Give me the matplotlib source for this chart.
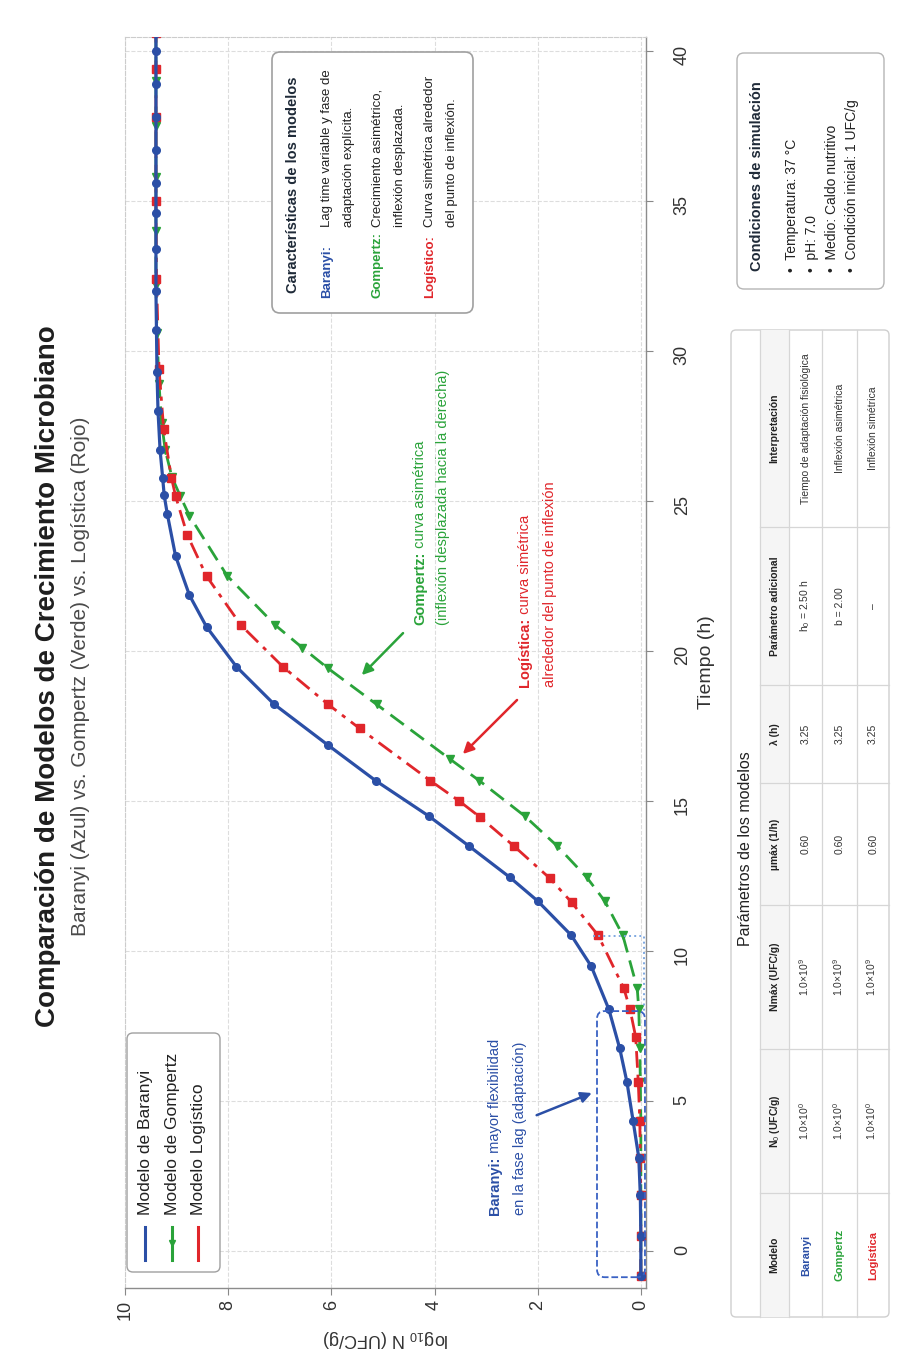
import matplotlib.pyplot as plt
from matplotlib.patches import FancyBboxPatch, Rectangle
from matplotlib.lines import Line2D

plt.rcParams['font.family'] = ['Liberation Sans', 'DejaVu Sans']
plt.rcParams['mathtext.fontset'] = 'custom'
plt.rcParams['mathtext.rm'] = 'Liberation Sans'
plt.rcParams['mathtext.it'] = 'Liberation Sans:italic'
plt.rcParams['mathtext.bf'] = 'Liberation Sans:bold'

W, H = 905, 1363

BLUE = '#2b4fa6'
GREEN = '#2aa33a'
RED = '#e0262b'
DARK = '#1f2a38'

# log10 N (UFC/g) vs tiempo (h)
baranyi_t = [-0.83, 0.50, 1.86, 3.12, 4.34, 5.64, 6.76, 8.06, 9.49, 10.53, 11.67, 12.46,
             13.50, 14.50, 15.68, 16.86, 18.23, 19.48, 20.81, 21.86, 23.17, 24.57, 25.19,
             25.78, 26.70, 28.00, 29.30, 30.70, 32.00, 33.40, 34.60, 35.60, 36.70, 37.80,
             38.90, 40.00, 40.60]
baranyi_n = [0.00, 0.00, 0.01, 0.04, 0.15, 0.27, 0.41, 0.62, 0.96, 1.35, 2.00, 2.54,
             3.33, 4.11, 5.14, 6.06, 7.11, 7.84, 8.42, 8.75, 9.02, 9.18, 9.24,
             9.27, 9.32, 9.36, 9.38, 9.39, 9.40, 9.40, 9.40, 9.40, 9.40, 9.40,
             9.40, 9.40, 9.40]

gompertz_t = [-0.83, 0.50, 1.86, 3.12, 4.34, 5.64, 6.76, 8.06, 8.76, 10.53, 11.67, 12.46,
              13.50, 14.50, 15.68, 16.40, 18.22, 19.42, 20.11, 20.87, 22.51, 24.51, 25.17,
              25.80, 26.70, 27.60, 28.90, 30.60, 32.20, 34.00, 35.80, 37.50, 39.00, 40.60]
gompertz_n = [0.00, 0.00, 0.00, 0.00, 0.00, 0.01, 0.02, 0.04, 0.07, 0.35, 0.70, 1.05,
              1.62, 2.25, 3.13, 3.70, 5.12, 6.06, 6.56, 7.09, 8.02, 8.75, 8.93,
              9.09, 9.22, 9.29, 9.34, 9.38, 9.40, 9.40, 9.40, 9.40, 9.40, 9.40]

logistic_t = [-0.83, 0.50, 1.86, 3.12, 4.34, 5.64, 7.14, 8.06, 8.76, 10.53, 11.62, 12.42,
              13.50, 14.47, 15.00, 15.68, 17.42, 18.22, 19.48, 20.86, 22.50, 23.86, 25.17,
              25.78, 27.40, 29.40, 32.40, 35.00, 37.80, 39.40, 40.60]
logistic_n = [0.00, 0.00, 0.00, 0.01, 0.02, 0.05, 0.10, 0.21, 0.33, 0.83, 1.34, 1.76,
              2.46, 3.12, 3.52, 4.08, 5.45, 6.06, 6.94, 7.75, 8.42, 8.79, 9.02,
              9.10, 9.25, 9.34, 9.39, 9.40, 9.40, 9.40, 9.40]

# zona de fase lag resaltada (t en h, log10 N)
lag_t = (-0.87, 8.0)
lag_n = (-0.08, 0.85)

# tabla de parámetros
table_header = ['Modelo', 'N$_0$ (UFC/g)', 'Nmáx (UFC/g)', 'µmáx (1/h)', 'λ (h)',
                'Parámetro adicional', 'Interpretación']
table_models = ['Baranyi', 'Gompertz', 'Logística']
table_n0 = ['1.0×10$^{0}$', '1.0×10$^{0}$', '1.0×10$^{0}$']
table_nmax = ['1.0×10$^{9}$', '1.0×10$^{9}$', '1.0×10$^{9}$']
table_mu = ['0.60', '0.60', '0.60']
table_lambda = ['3.25', '3.25', '3.25']
table_extra = ['h$_0$ = 2.50 h', 'b = 2.00', '–']
table_interp = ['Tiempo de adaptación fisiológica', 'Inflexión asimétrica', 'Inflexión simétrica']
model_colors = [BLUE, GREEN, RED]

conditions = ['Temperatura: 37 °C', 'pH: 7.0', 'Medio: Caldo nutritivo',
              'Condición inicial: 1 UFC/g']

fig = plt.figure(figsize=(W / 100, H / 100), dpi=100)
fig.patch.set_facecolor('white')

# the chart is laid out turned a quarter: log10 N runs right-to-left, time runs upward
ax = fig.add_axes([125 / W, 1 - 1288 / H, 521 / W, 1251 / H])
ax.plot(gompertz_n, gompertz_t, color=GREEN, lw=2.0, ls=(0, (6, 3)), marker='v', ms=6,
        zorder=3.0)
ax.plot(logistic_n, logistic_t, color=RED, lw=2.0, ls=(0, (6, 2.5, 1.5, 2.5)), marker='s',
        ms=5.5, zorder=3.1)
ax.plot(baranyi_n, baranyi_t, color=BLUE, lw=2.3, marker='o', ms=5.5, zorder=3.2)

ax.set_xlim(10, -0.1)
ax.set_ylim(-1.23, 40.47)
ax.set_xticks([0, 2, 4, 6, 8, 10])
ax.set_yticks(range(0, 41, 5))
ax.yaxis.tick_right()
ax.yaxis.set_label_position('right')
ax.tick_params(axis='x', labelrotation=90, labelsize=13, length=5, color='#888888',
               labelcolor='#333333')
ax.tick_params(axis='y', labelrotation=90, labelsize=13, length=5, color='#888888',
               labelcolor='#333333', pad=15)
ax.set_xlabel(r'log$_{10}$ N (UFC/g)', rotation=180, fontsize=13, color='#333333', labelpad=6)
ax.set_ylabel('Tiempo (h)', rotation=90, fontsize=14, color='#333333', labelpad=5)
ax.grid(True, ls='--', color='#dddddd', lw=0.8)
ax.set_axisbelow(True)
for side in ('top', 'left'):
    ax.spines[side].set_linestyle('--')
    ax.spines[side].set_color('#cccccc')
    ax.spines[side].set_linewidth(0.8)
for side in ('bottom', 'right'):
    ax.spines[side].set_color('#8c8c8c')
    ax.spines[side].set_linewidth(1.0)

lag_box = FancyBboxPatch((lag_n[0], lag_t[0]), lag_n[1] - lag_n[0], lag_t[1] - lag_t[0],
                         boxstyle='round,pad=0,rounding_size=0.15', mutation_aspect=1.72,
                         fill=False, ec='#3a62c4', ls='--', lw=1.3, zorder=4)
ax.add_patch(lag_box)
ax.plot([0.93, -0.06, -0.06], [10.5, 10.5, lag_t[1]], ls=':', color='#7fa8e0', lw=1.4,
        zorder=4)

arrow = dict(arrowstyle='-|>', lw=1.8, mutation_scale=16, shrinkA=0, shrinkB=0)
ax.annotate('', xy=(5.41, 19.2), xytext=(4.61, 20.6), arrowprops=dict(arrow, color=GREEN))
ax.annotate('', xy=(3.45, 16.57), xytext=(2.40, 18.37), arrowprops=dict(arrow, color=RED))
ax.annotate('', xy=(0.95, 5.27), xytext=(2.02, 4.53), arrowprops=dict(arrow, color=BLUE))

# overlay in pixel units for the text blocks, legend and table
ov = fig.add_axes([0, 0, 1, 1], zorder=5)
ov.set_xlim(0, W)
ov.set_ylim(H, 0)
ov.axis('off')
renderer = fig.canvas.get_renderer()


def vtext(xc, y, parts, size):
    """Upward-reading text starting at row y, centred on column xc, built from styled runs."""
    x = xc + 0.42 * size
    for s, color, weight in parts:
        t = ov.text(x, y, s, rotation=90, rotation_mode='anchor', ha='left', va='baseline',
                    fontsize=size, color=color, fontweight=weight)
        y -= t.get_window_extent(renderer).height


def vcenter(xc, yc, s, size, **kw):
    ov.text(xc + 0.42 * size, yc, s, rotation=90, rotation_mode='anchor', ha='center',
            va='baseline', fontsize=size, **kw)


def rbox(x0, y0, x1, y1, r=7, **kw):
    ov.add_patch(FancyBboxPatch((x0, y0), x1 - x0, y1 - y0,
                                boxstyle=f'round,pad=0,rounding_size={r}', **kw))


# titles
vcenter(47, 676, 'Comparación de Modelos de Crecimiento Microbiano', 20, fontweight='bold',
        color='#1e1e1e')
vcenter(80, 676, 'Baranyi (Azul) vs. Gompertz (Verde) vs. Logística (Rojo)', 15,
        color='#4a4a4a')

# legend
rbox(127, 1033, 220, 1272, r=6, fc='white', ec='#a0a0a0', lw=1)
legend_items = [('Modelo de Baranyi', BLUE, None), ('Modelo de Gompertz', GREEN, 'v'),
                ('Modelo Logístico', RED, None)]
for xc, (label, color, mk) in zip([145, 172, 198], legend_items):
    ov.add_line(Line2D([xc, xc, xc], [1227, 1243, 1260], color=color, lw=2.2, marker=mk,
                       ms=5, markevery=[1]))
    vtext(xc, 1215, [(label, '#222222', 'normal')], 12.5)

# curve notes
vtext(420, 625, [('Gompertz:', GREEN, 'bold'), (' curva asimétrica', GREEN, 'normal')], 10.5)
vtext(443, 625, [('(inflexión desplazada hacia la derecha)', GREEN, 'normal')], 10.5)
vtext(525, 687, [('Logística:', RED, 'bold'), (' curva simétrica', RED, 'normal')], 10.5)
vtext(550, 687, [('alrededor del punto de inflexión', RED, 'normal')], 10.5)
vtext(495, 1215, [('Baranyi:', BLUE, 'bold'), (' mayor flexibilidad', BLUE, 'normal')], 10.5)
vtext(520, 1215, [('en la fase lag (adaptación)', BLUE, 'normal')], 10.5)

# model characteristics box
rbox(272, 52, 473, 313, r=8, fc='white', ec='#a0a0a0', lw=1.2)
vtext(293, 293, [('Características de los modelos', DARK, 'bold')], 10.5)
features = [('Baranyi:', BLUE, 'Lag time variable y fase de', 'adaptación explícita.'),
            ('Gompertz:', GREEN, 'Crecimiento asimétrico,', 'inflexión desplazada.'),
            ('Logístico:', RED, 'Curva simétrica alrededor', 'del punto de inflexión.')]
for xc, (name, color, l1, l2) in zip([326, 377, 429], features):
    vtext(xc, 298, [(name, color, 'bold')], 9.5)
    vtext(xc, 227, [(l1, '#222222', 'normal')], 9.5)
    vtext(xc + 22, 227, [(l2, '#222222', 'normal')], 9.5)

# simulation conditions box
rbox(737, 53, 884, 289, r=7, fc='white', ec='#b5b5b5', lw=1)
vtext(757, 271, [('Condiciones de simulación', DARK, 'bold')], 10.5)
for xc, line in zip([792, 812, 832, 852], conditions):
    vtext(xc, 272, [('•  ' + line, '#222222', 'normal')], 10)

# parameter table
rows_x = [731, 760, 789, 822, 857, 889]
cols_y = [1317, 1193, 1049, 905, 783, 685, 527, 330]
rbox(731, 330, 889, 1317, r=5, fc='white', ec='#cfcfcf', lw=1)
ov.add_patch(Rectangle((760, 330), 29, 987, fc='#f5f5f5', ec='none'))
for xb in rows_x[1:-1]:
    ov.plot([xb, xb], [330, 1317], color='#d6d6d6', lw=0.9)
for yb in cols_y[1:-1]:
    ov.plot([760, 889], [yb, yb], color='#d6d6d6', lw=0.9)
vcenter(745, 849, 'Parámetros de los modelos', 11.5, color='#222222')

col_centers = [(a + b) / 2 for a, b in zip(cols_y[:-1], cols_y[1:])]
row_centers = [(a + b) / 2 for a, b in zip(rows_x[1:-1], rows_x[2:])]
for yc, head in zip(col_centers, table_header):
    vcenter(row_centers[0], yc, head, 7.5, fontweight='bold', color='#222222')
columns = [table_models, table_n0, table_nmax, table_mu, table_lambda, table_extra, table_interp]
for i in range(3):
    xc = row_centers[i + 1]
    for j, (yc, col) in enumerate(zip(col_centers, columns)):
        if j == 0:
            vcenter(xc, yc, col[i], 8, fontweight='bold', color=model_colors[i])
        else:
            vcenter(xc, yc, col[i], 7.5, color='#333333')

fig.savefig('out.png', dpi=100)
